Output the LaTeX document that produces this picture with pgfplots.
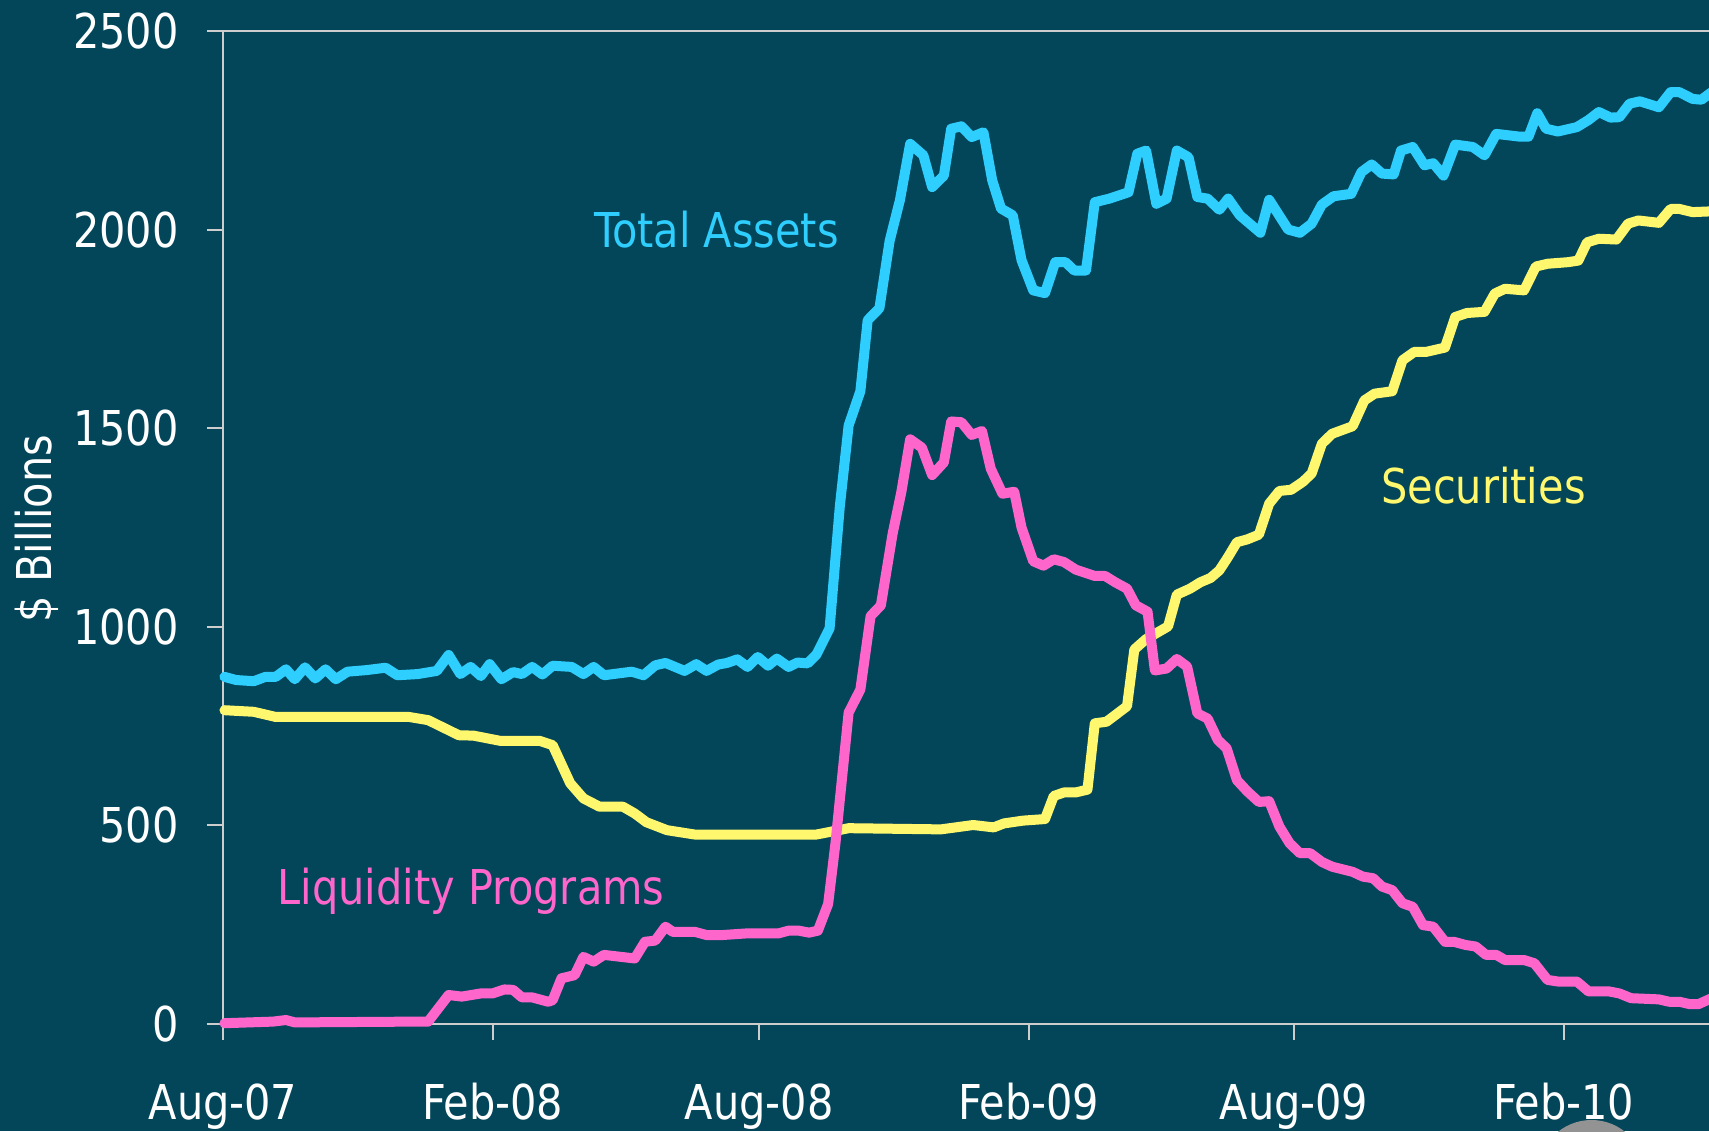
\documentclass[border=0pt]{standalone}
\usepackage{fontspec}
\setmainfont{DejaVu Sans Condensed}[FakeStretch=0.96]
\usepackage{pgfplots}
\pgfplotsset{compat=1.18}
\definecolor{bg}{RGB}{3,70,90}
\definecolor{ta}{RGB}{46,206,255}
\definecolor{sec}{RGB}{255,248,110}
\definecolor{liq}{RGB}{255,102,204}
\definecolor{ax}{RGB}{205,205,205}
\begin{document}
\begin{tikzpicture}
\fill[bg] (-111.5pt,-53.5pt) rectangle (743pt,512pt);
\begin{axis}[
 at={(0,0)}, anchor=south west,
 scale only axis, width=743pt, height=496.5pt,
 xmin=0, xmax=1014.2, ymin=0, ymax=2500,
 axis x line*=bottom, axis y line*=left,
 axis line style={ax, line width=1pt, -},
 xtick={0,184,366,550,731,915},
 xticklabels={Aug-07,Feb-08,Aug-08,Feb-09,Aug-09,Feb-10},
 ytick={0,500,1000,1500,2000,2500},
 tick align=outside, major tick length=8pt,
 tick style={ax, line width=1pt},
 ticklabel style={font=\fontsize{24}{29}\selectfont, text=white},
 /pgf/number format/assume math mode=true,
 /pgf/number format/1000 sep={},
 xticklabel style={inner sep=0pt, anchor=north, yshift=-21.5pt},
 yticklabel style={inner sep=0pt, anchor=east, xshift=-14pt},
 clip=false,
 every axis plot/.append style={line width=5pt, line join=round, line cap=round},
]
\draw[ax, line width=1pt] (rel axis cs:0,1) -- (rel axis cs:1,1);
% Securities
\addplot[sec] coordinates {
(1,790)(21,786)(36,773)(127,773)(140,765)(161,727)(171,726)(189,713)(216,713)(225,702)
(237,606)(246,568)(257,547)(273,547)(281,530)(289,508)(303,488)(322,477)(405,477)(412,482)
(427,493)(490,490)(512,501)(526,495)(533,505)(546,512)(561,516)(567,574)(574,583)(582,583)
(590,590)(595,757)(603,761)(617,800)(622,943)(630,969)(645,1001)(651,1081)(660,1096)(667,1112)
(674,1123)(680,1142)(686,1176)(692,1213)(699,1220)(707,1232)(714,1310)(721,1342)(729,1345)(737,1365)
(743,1386)(750,1461)(757,1486)(771,1505)(779,1570)(786,1587)(798,1593)(805,1671)(813,1692)(821,1692)
(834,1703)(841,1780)(849,1790)(861,1793)(868,1839)(875,1851)(888,1847)(896,1907)(904,1914)(918,1918)
(925,1922)(931,1968)(939,1977)(951,1975)(959,2015)(966,2023)(980,2017)(988,2052)(994,2052)(1003,2044)
(1016,2046)
};
% Liquidity programs
\addplot[liq] coordinates {
(1,2)(34,6)(43,10)(49,4)(130,6)(140,6)(154,73)(163,69)(176,77)(184,77)
(192,87)(198,86)(204,67)(211,67)(222,56)(225,60)(231,115)(240,123)(246,169)(253,157)
(260,174)(281,165)(288,207)(295,210)(302,245)(307,232)(322,232)(330,224)(341,224)(357,228)
(367,228)(379,228)(386,235)(393,235)(400,230)(406,235)(413,302)(418,455)(427,784)(435,842)
(442,1027)(449,1054)(457,1234)(463,1340)(469,1472)(477,1451)(484,1382)(492,1414)(497,1517)(504,1515)
(511,1483)(518,1493)(524,1398)(532,1335)(540,1340)(545,1250)(553,1165)(560,1154)(567,1170)(574,1163)
(582,1144)(595,1128)(602,1128)(609,1112)(617,1096)(623,1054)(631,1038)(636,890)(644,895)(651,919)
(658,900)(665,782)(672,769)(679,715)(685,694)(692,614)(699,586)(707,559)(714,561)(721,497)
(728,455)(735,430)(742,430)(750,408)(757,396)(771,383)(778,371)(785,367)(791,346)(798,337)
(805,304)(812,295)(819,249)(826,245)(834,207)(840,207)(848,199)(855,195)(862,174)(869,174)
(875,161)(888,161)(895,153)(904,111)(911,107)(924,107)(932,82)(946,82)(953,77)(961,65)
(980,62)(987,56)(994,56)(1001,50)(1007,50)(1016,65)
};
% Total assets
\addplot[ta] coordinates {
(1,874)(9,866)(21,863)(29,874)(36,874)(43,893)(49,868)(56,898)(63,870)(70,893)
(77,868)(85,887)(98,891)(111,897)(119,878)(133,881)(146,889)(154,929)(162,881)(169,899)
(176,876)(182,906)(190,868)(198,886)(204,881)(211,899)(218,880)(225,902)(238,899)(246,881)
(253,899)(260,878)(279,887)(287,878)(295,903)(302,909)(315,889)(323,906)(330,889)(338,905)
(344,909)(351,918)(358,899)(365,924)(372,902)(378,920)(386,899)(392,910)(399,908)(405,930)
(414,996)(421,1304)(427,1507)(435,1593)(440,1772)(448,1802)(455,1972)(462,2074)(469,2216)(478,2187)
(484,2107)(492,2136)(497,2254)(504,2260)(511,2233)(519,2245)(525,2124)(531,2053)(539,2036)(545,1923)
(553,1847)(561,1840)(568,1918)(575,1918)(581,1897)(589,1897)(595,2069)(605,2078)(618,2094)(624,2191)
(630,2199)(637,2065)(644,2078)(651,2199)(659,2182)(665,2082)(672,2078)(680,2050)(686,2078)(694,2036)
(708,1992)(714,2075)(727,2000)(735,1992)(743,2015)(750,2063)(758,2084)(770,2090)(777,2145)(784,2164)
(791,2141)(799,2139)(804,2199)(812,2208)(820,2162)(826,2167)(833,2136)(841,2214)(853,2208)(861,2187)
(869,2241)(885,2234)(891,2234)(897,2293)(903,2254)(911,2247)(924,2258)(932,2276)(939,2296)(947,2282)
(953,2283)(960,2317)(967,2323)(980,2308)(988,2346)(994,2346)(1003,2329)(1009,2327)(1016,2346)
};
\node[anchor=base west, inner sep=0pt, text=ta, font=\fontsize{24}{29}\selectfont] at (axis cs:253.4,1954) {Total Assets};
\node[anchor=base west, inner sep=0pt, text=sec, font=\fontsize{24}{29}\selectfont] at (axis cs:790.2,1310) {Securities};
\node[anchor=base west, inner sep=0pt, text=liq, font=\fontsize{24}{29}\selectfont] at (axis cs:37,300) {Liquidity Programs};
\end{axis}
\node[rotate=90, text=white, inner sep=0pt, font=\fontsize{24}{29}\selectfont] at (-93.25pt,247.75pt) {\$ Billions};
\fill[gray!85!white] (684.25pt,-74.75pt) circle (26.75pt);
\pgfresetboundingbox
\path (-111.5pt,-53.5pt) rectangle (743pt,512pt);
\end{tikzpicture}
\end{document}
